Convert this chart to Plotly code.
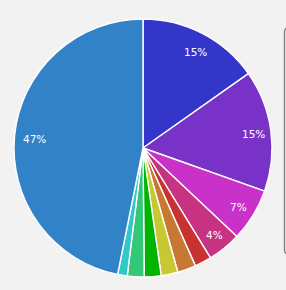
import math
import plotly.graph_objects as go

labels = ["A", "B", "C", "D", "E", "F", "G", "H", "I", "J", "K"]
values = [15.2, 15.2, 6.6, 4.2, 2.1, 2.3, 2.1, 2.1, 2.1, 1.2, 46.8]
colors = ["#3336c8", "#7832c8", "#c832c8", "#c83282", "#c83232", "#c87832",
          "#c8c832", "#00b400", "#32c878", "#32c8c8", "#3282c8"]
show_label = [True, True, True, True, False, False, False, False, False, False, True]

W, H = 286, 290
cx, cy, R = 143, 148, 129

fig = go.Figure(go.Pie(
    labels=labels, values=values, sort=False, direction="clockwise", rotation=0,
    marker=dict(colors=colors, line=dict(color="white", width=1.4)),
    textinfo="none", hoverinfo="label+percent", showlegend=False,
    domain=dict(x=[(cx - R) / W, (cx + R) / W], y=[(H - cy - R) / H, (H - cy + R) / H]),
))

total = sum(values)
acc = 0
for v, s in zip(values, show_label):
    mid = (acc + v / 2) / total * 2 * math.pi
    acc += v
    if not s:
        continue
    rl = 0.855 * R
    px = cx + rl * math.sin(mid)
    py = cy - rl * math.cos(mid)
    fig.add_annotation(x=px / W, y=1 - py / H, xref="paper", yref="paper",
                       xanchor="center", yanchor="middle", xshift=1.5, yshift=-1.5,
                       text=f"{round(v / total * 100)}%", showarrow=False,
                       font=dict(family="DejaVu Sans", size=10.5, color="white"))

# partially visible legend box on the right
x0, y0, x1, y1, rr = 284.5, 28, 300, 254, 4
path = (f"M {x0/W},{1-(y0+rr)/H} Q {x0/W},{1-y0/H} {(x0+rr)/W},{1-y0/H} L {x1/W},{1-y0/H} "
        f"L {x1/W},{1-y1/H} L {(x0+rr)/W},{1-y1/H} Q {x0/W},{1-y1/H} {x0/W},{1-(y1-rr)/H} Z")
fig.add_shape(type="path", path=path, xref="paper", yref="paper",
              line=dict(color="#808080", width=1.4), fillcolor="#f7f7f7")

fig.update_layout(width=W, height=H, margin=dict(l=0, r=0, t=0, b=0),
                  paper_bgcolor="#f2f2f2", plot_bgcolor="#f2f2f2")
fig.write_html("out.html")
